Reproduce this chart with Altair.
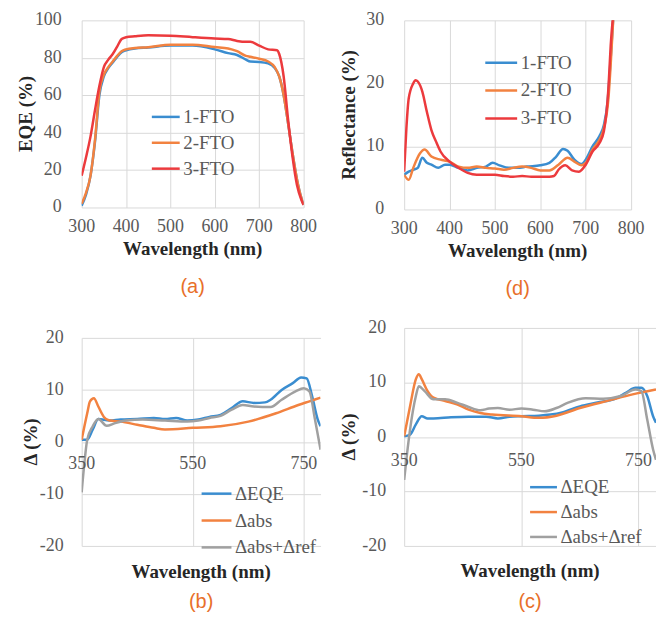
import altair as alt
import pandas as pd

# ---------------- data ----------------
# (a) EQE
a_wl = [300, 310, 320, 330, 340, 350, 360, 370, 380, 390, 400, 420, 450, 500, 550,
        600, 630, 650, 670, 680, 700, 720, 735, 745, 755, 765, 775, 785, 795, 800]
a_fto1 = [1, 7, 17, 35, 60, 70, 74.5, 77.5, 80.5, 83, 84, 85, 85.5, 86.5, 86.5,
          84.5, 82.5, 81.5, 79, 78, 77.8, 77, 74.5, 70, 60, 45, 29, 15, 5, 1.5]
a_fto2 = [2, 8, 17, 36, 62, 71, 75, 78, 81, 83.5, 84.5, 85.2, 85.6, 87, 87,
          85.7, 85, 83.5, 81, 80.5, 79.5, 78, 75, 70, 60, 45, 29, 15, 5, 1.5]
a_wl3 = [300, 310, 320, 330, 340, 350, 360, 370, 380, 390, 400, 420, 450, 500, 550,
         600, 630, 650, 670, 680, 700, 720, 740, 745, 755, 765, 775, 785, 795, 800]
a_fto3 = [17, 27, 38, 52, 65, 75, 79, 82, 86, 90, 91, 91.5, 92, 91.8, 91,
          90.3, 90, 89, 88.5, 88.5, 86.5, 84.5, 84, 82, 70, 47, 27, 12, 4, 1.4]

# (d) Reflectance
d_wl1 = [300, 310, 320, 330, 340, 350, 360, 375, 390, 400, 420, 440, 460, 480, 495, 510,
         530, 550, 570, 600, 620, 635, 650, 660, 675, 690, 700, 715, 730, 740, 748, 755, 762]
d_fto1 = [5.5, 6.0, 6.3, 6.6, 8.2, 7.4, 7.1, 6.6, 7.1, 7.1, 6.6, 6.2, 6.6, 6.8, 7.4, 7.0,
          6.6, 6.6, 6.8, 7.0, 7.4, 8.4, 9.6, 9.3, 7.9, 7.2, 7.9, 10.0, 11.6, 13.4, 17.0, 24.0, 32]
d_wl2 = [300, 310, 320, 335, 345, 360, 380, 400, 420, 440, 460, 480, 500, 520, 540,
         560, 580, 600, 620, 640, 660, 675, 690, 700, 715, 730, 740, 750, 755, 762]
d_fto2 = [5.5, 4.7, 6.6, 8.9, 9.5, 8.4, 7.9, 7.6, 6.8, 6.6, 6.8, 6.6, 6.5, 6.3, 6.6,
          6.8, 6.6, 6.2, 6.2, 7.1, 8.2, 7.6, 7.0, 7.4, 9.5, 11.0, 12.9, 17.6, 23.0, 32]
d_wl3 = [300, 305, 310, 320, 325, 330, 340, 350, 360, 370, 380, 400, 420, 440, 460, 480,
         500, 520, 540, 560, 580, 600, 620, 630, 640, 655, 670, 685, 700, 715, 730, 740,
         750, 755, 762]
d_fto3 = [6.0, 13.0, 17.6, 20.0, 20.5, 20.3, 18.7, 15.5, 12.6, 10.8, 9.2, 7.6, 6.6, 5.8, 5.5, 5.5,
          5.5, 5.3, 5.2, 5.3, 5.2, 5.2, 5.2, 5.3, 6.3, 7.0, 6.2, 6.0, 7.1, 9.2, 10.5, 12.4,
          19.2, 26.0, 32]

# (b) deltas
b_wl_eqe = [350, 360, 370, 380, 400, 420, 450, 480, 500, 520, 540, 560, 580, 600, 620,
            640, 660, 680, 690, 710, 730, 745, 755, 765, 775, 780]
b_eqe = [0.4, 0.4, 2.4, 4.4, 4.1, 4.3, 4.4, 4.6, 4.4, 4.6, 4.1, 4.3, 4.8, 5.2, 6.5,
         7.8, 7.5, 7.6, 8.1, 10.0, 11.3, 12.4, 12.2, 8.7, 4.3, 3.0]
b_wl_abs = [350, 360, 365, 372, 380, 390, 400, 420, 450, 480, 500, 550, 600, 650, 700, 740, 760, 780]
b_abs = [0.4, 5.5, 7.8, 8.4, 6.8, 4.8, 4.1, 3.9, 3.3, 2.7, 2.4, 2.7, 3.0, 3.9, 5.5, 7.1, 7.8, 8.5]
b_wl_ref = [350, 355, 360, 370, 380, 395, 410, 430, 460, 500, 540, 560, 580, 600, 620,
            640, 660, 690, 710, 735, 750, 760, 770, 780]
b_ref = [-9.7, -4.0, 0.4, 3.0, 4.4, 3.1, 3.6, 4.1, 4.3, 4.1, 3.9, 4.1, 4.6, 5.0, 6.2,
         7.1, 6.8, 6.7, 8.1, 9.7, 10.3, 9.7, 4.3, -1.5]

# (c) deltas
c_wl_eqe = [350, 360, 370, 380, 390, 400, 430, 460, 490, 510, 530, 550, 580, 600, 620,
            650, 680, 710, 730, 745, 755, 765, 775, 780]
c_eqe = [0.1, 0.4, 2.3, 3.8, 3.4, 3.4, 3.6, 3.7, 3.7, 3.4, 3.7, 3.8, 3.9, 4.1, 4.5,
         5.6, 6.3, 7.0, 8.2, 9.0, 9.0, 7.5, 3.8, 2.6]
c_wl_abs = [350, 360, 370, 375, 380, 390, 400, 420, 440, 460, 480, 500, 550, 580, 610, 650, 700, 740, 780]
c_abs = [0.1, 5.6, 10.6, 11.5, 10.6, 8.4, 7.2, 6.6, 6.0, 5.0, 4.4, 4.1, 3.8, 3.5, 3.9, 5.3, 6.7, 7.8, 8.7]
c_wl_ref = [350, 355, 360, 370, 375, 385, 400, 420, 440, 460, 480, 495, 510, 530, 550,
            570, 590, 610, 630, 660, 690, 720, 745, 755, 765, 775, 780]
c_ref = [-7.9, -3.0, 1.3, 7.5, 9.3, 8.4, 6.9, 6.9, 6.3, 5.5, 4.9, 5.2, 5.3, 5.0, 5.2,
         5.0, 4.7, 5.3, 6.3, 7.1, 7.0, 7.5, 8.7, 8.4, 3.2, -2.3, -4.2]

fto_names = ["1-FTO", "2-FTO", "3-FTO"]
fto_colors = ["#3A8DD0", "#F28240", "#EC3A3D"]
delta_names = ["\u0394EQE", "\u0394abs", "\u0394abs+\u0394ref"]
delta_colors = ["#3A8DD0", "#F28240", "#A0A0A0"]

x_title = "Wavelength (nm)"

SERIF = "Liberation Serif"
SANS = "Liberation Sans"
GRID = "#D9D9D9"
LABEL = "#595959"
TITLE = "#262626"
TAG = "#E8702A"


def frame(series):
    rows = []
    for order, (name, wl, vals) in enumerate(series):
        for w, v in zip(wl, vals):
            rows.append({"wl": w, "v": v, "s": name, "o": order})
    return pd.DataFrame(rows)


def panel(df, names, colors, xdom, xticks, ydom, yticks, w, h, ytitle, geo, leg, tag):
    xs = alt.Scale(domain=xdom, nice=False, zero=False)
    ys = alt.Scale(domain=ydom, nice=False, zero=False)
    gx = alt.Axis(values=xticks, labels=False, title=None, grid=True, ticks=False,
                  domain=False, minExtent=0, maxExtent=0, gridColor=GRID, gridWidth=1)
    gy = alt.Axis(values=yticks, labels=False, title=None, grid=True, ticks=False,
                  domain=False, minExtent=0, maxExtent=0, gridColor=GRID, gridWidth=1)
    legend = alt.Legend(orient="none", legendX=leg["x"], legendY=leg["y"], title=None,
                        symbolType="stroke", symbolSize=leg["len"] ** 2, rowPadding=0)
    lines = alt.Chart(df).mark_line(strokeWidth=2.5, clip=True, interpolate="monotone").encode(
        x=alt.X("wl:Q", scale=xs, axis=gx),
        y=alt.Y("v:Q", scale=ys, axis=gy),
        color=alt.Color("s:N", scale=alt.Scale(domain=names, range=colors), legend=legend),
        order="o:Q",
    )
    # y tick labels
    ylab = alt.Chart(pd.DataFrame({"v": yticks, "t": [str(v) for v in yticks]})).mark_text(
        align="right", baseline="middle", font=SERIF, fontSize=18, color=LABEL
    ).encode(x=alt.value(geo["ylab_x"]), y=alt.Y("v:Q", scale=ys, axis=gy), text="t:N")
    # x tick labels
    xl_df = pd.DataFrame({"wl": xticks, "t": [str(v) for v in xticks], "v": [0] * len(xticks)})
    if geo.get("xlab_zero") is not None:
        xlab = alt.Chart(xl_df).mark_text(
            align="center", baseline="middle", font=SERIF, fontSize=18, color=LABEL,
            dy=geo["xlab_zero"]
        ).encode(x=alt.X("wl:Q", scale=xs, axis=gx), y=alt.Y("v:Q", scale=ys, axis=gy), text="t:N")
    else:
        xlab = alt.Chart(xl_df).mark_text(
            align="center", baseline="middle", font=SERIF, fontSize=18, color=LABEL
        ).encode(x=alt.X("wl:Q", scale=xs, axis=gx), y=alt.value(h + geo["xlab_y"]), text="t:N")
    # axis titles
    xt = alt.Chart(pd.DataFrame({"t": [x_title]})).mark_text(
        align="center", baseline="middle", font=SERIF, fontSize=19, fontWeight="bold", color=TITLE
    ).encode(x=alt.value(w / 2), y=alt.value(h + geo["xtitle_y"]), text="t:N")
    yt = alt.Chart(pd.DataFrame({"t": [ytitle]})).mark_text(
        align="center", baseline="middle", font=SERIF, fontSize=19, fontWeight="bold",
        color=TITLE, angle=270
    ).encode(x=alt.value(geo["ytitle_x"]), y=alt.value(h / 2), text="t:N")
    return alt.layer(lines, ylab, xlab, xt, yt).properties(
        width=w, height=h,
        title=alt.TitleParams(text=tag, orient="bottom", font=SANS, fontSize=20,
                              fontWeight="normal", color=TAG, offset=geo["tag"],
                              anchor="middle", frame="group"),
    )


df_a = frame([(fto_names[0], a_wl, a_fto1), (fto_names[1], a_wl, a_fto2), (fto_names[2], a_wl3, a_fto3)])
df_d = frame([(fto_names[0], d_wl1, d_fto1), (fto_names[1], d_wl2, d_fto2), (fto_names[2], d_wl3, d_fto3)])
df_b = frame([(delta_names[0], b_wl_eqe, b_eqe), (delta_names[1], b_wl_abs, b_abs), (delta_names[2], b_wl_ref, b_ref)])
df_c = frame([(delta_names[0], c_wl_eqe, c_eqe), (delta_names[1], c_wl_abs, c_abs), (delta_names[2], c_wl_ref, c_ref)])

pa = panel(df_a, fto_names, fto_colors, [300, 800], [300, 400, 500, 600, 700, 800],
           [0, 100], [0, 20, 40, 60, 80, 100], 223, 188, "EQE (%)",
           {"ylab_x": -20, "ytitle_x": -56, "xlab_y": 20, "xtitle_y": 42, "tag": 17.5},
           {"x": 69, "y": 81.5, "len": 28}, "(a)")
pd_ = panel(df_d, fto_names, fto_colors, [300, 800], [300, 400, 500, 600, 700, 800],
            [0, 30], [0, 10, 20, 30], 228, 190, "Reflectance (%)",
            {"ylab_x": -20, "ytitle_x": -55, "xlab_y": 20, "xtitle_y": 42, "tag": 17.5},
            {"x": 80, "y": 25, "len": 32}, "(d)")
pb = panel(df_b, delta_names, delta_colors, [350, 780], [350, 550, 750],
           [-20, 20], [-20, -10, 0, 10, 20], 240, 209, "\u0394 (%)",
           {"ylab_x": -18, "ytitle_x": -51, "xlab_zero": 22.5, "xtitle_y": 26, "tag": 10.5},
           {"x": 119, "y": 140, "len": 30}, "(b)")
pc = panel(df_c, delta_names, delta_colors, [350, 780], [350, 550, 750],
           [-20, 20], [-20, -10, 0, 10, 20], 253, 219, "\u0394 (%)",
           {"ylab_x": -18, "ytitle_x": -55, "xlab_zero": 24.5, "xtitle_y": 25, "tag": 11.5},
           {"x": 125, "y": 145, "len": 27}, "(c)")

left = alt.concat(pa, pb, columns=1, spacing=32, align="none").resolve_scale(
    color="independent", x="independent", y="independent").resolve_legend(color="independent")
right = alt.concat(pd_, pc, columns=1, spacing=20, align="none").resolve_scale(
    color="independent", x="independent", y="independent").resolve_legend(color="independent")
chart = alt.hconcat(left, right, spacing=20).resolve_scale(
    color="independent", x="independent", y="independent"
).resolve_legend(color="independent").properties(
    padding={"left": 9, "top": 2, "right": 0, "bottom": 0}
).configure(
    background="white",
    style={"guide-label": {"font": SERIF}, "guide-title": {"font": SERIF}},
).configure_view(stroke=None).configure_legend(
    labelFontSize=19, labelColor=LABEL, labelOffset=2,
    symbolStrokeWidth=2.5, padding=0, offset=0
)

chart.save("out.html", embed_options={"renderer": "svg", "actions": False})
